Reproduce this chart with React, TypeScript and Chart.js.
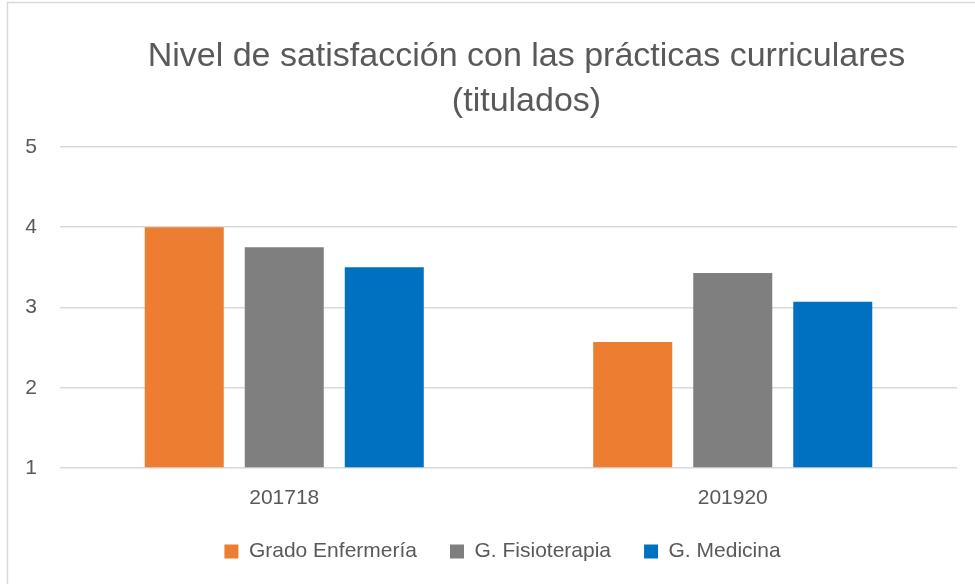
import React, { useEffect, useRef } from "react";
import { Chart, registerables } from "chart.js";

Chart.register(...registerables);

const categories = ["201718", "201920"];
const seriesNames = ["Grado Enfermería", "G. Fisioterapia", "G. Medicina"];
const enfermeria = [4.0, 2.57];
const fisioterapia = [3.75, 3.43];
const medicina = [3.5, 3.07];
const seriesColors = ["#ED7D31", "#7F7F7F", "#0070C0"];
const titleLines = ["Nivel de satisfacción con las prácticas curriculares", "(titulados)"];
const yMin = 1;
const yMax = 5;

const frame = {
  id: "frame",
  afterLayout(chart: any) {
    const t = chart.titleBlock;
    if (t) {
      t.left += 48;
      t.right += 48;
    }
    const l = chart.legend;
    if (l) {
      l.left += 24;
      l.right += 24;
      l.top -= 21;
      l.bottom -= 21;
    }
  },
  afterDraw(chart: any) {
    const ctx = chart.ctx;
    ctx.save();
    ctx.strokeStyle = "#d9d9d9";
    ctx.lineWidth = 1.5;
    ctx.beginPath();
    ctx.moveTo(7.5, 600);
    ctx.lineTo(7.5, 2.5);
    ctx.lineTo(975, 2.5);
    ctx.stroke();
    ctx.restore();
  },
};

export default function App() {
  const ref = useRef<HTMLCanvasElement | null>(null);

  useEffect(() => {
    if (!ref.current) return;
    const font = "'Liberation Sans', Arial, Helvetica, sans-serif";
    Chart.defaults.font.family = font;
    const values = [enfermeria, fisioterapia, medicina];
    const chart = new Chart(ref.current, {
      type: "bar",
      data: {
        labels: categories,
        datasets: seriesNames.map((name, i) => ({
          label: name,
          data: values[i],
          backgroundColor: seriesColors[i],
          borderWidth: 0,
          categoryPercentage: 0.669,
          barPercentage: 0.79,
          base: yMin,
        })),
      },
      options: {
        responsive: false,
        animation: false,
        devicePixelRatio: 1,
        layout: { padding: { left: 0, right: 18, top: 0, bottom: 0 } },
        plugins: {
          title: {
            display: true,
            text: titleLines,
            color: "#595959",
            font: { size: 34, weight: "normal", lineHeight: 1.323, family: font },
            padding: { top: 34.5, bottom: 22.5 },
          },
          legend: {
            display: true,
            position: "bottom",
            labels: {
              color: "#595959",
              font: { size: 21, family: font },
              boxWidth: 14,
              boxHeight: 14,
              padding: 33,
            },
          },
          tooltip: { enabled: false },
        },
        scales: {
          x: {
            grid: { display: false, drawTicks: false },
            border: { display: false },
            ticks: {
              color: "#595959",
              font: { size: 21, family: font, lineHeight: 1.0 },
              padding: 20,
            },
          },
          y: {
            min: yMin,
            max: yMax,
            afterFit(scale: any) {
              scale.width = 60;
            },
            grid: { color: "#d9d9d9", lineWidth: 1.5, drawTicks: false },
            border: { display: false },
            ticks: {
              stepSize: 1,
              color: "#595959",
              font: { size: 21, family: font },
              padding: 23,
            },
          },
        },
      },
      plugins: [frame],
    });
    return () => chart.destroy();
  }, []);

  return (
    <div
      style={{
        position: "fixed",
        left: 0,
        top: 0,
        width: 975,
        height: 584,
        overflow: "hidden",
        background: "#ffffff",
      }}
    >
      <canvas ref={ref} width={975} height={593} style={{ display: "block", width: 975, height: 593 }} />
    </div>
  );
}
